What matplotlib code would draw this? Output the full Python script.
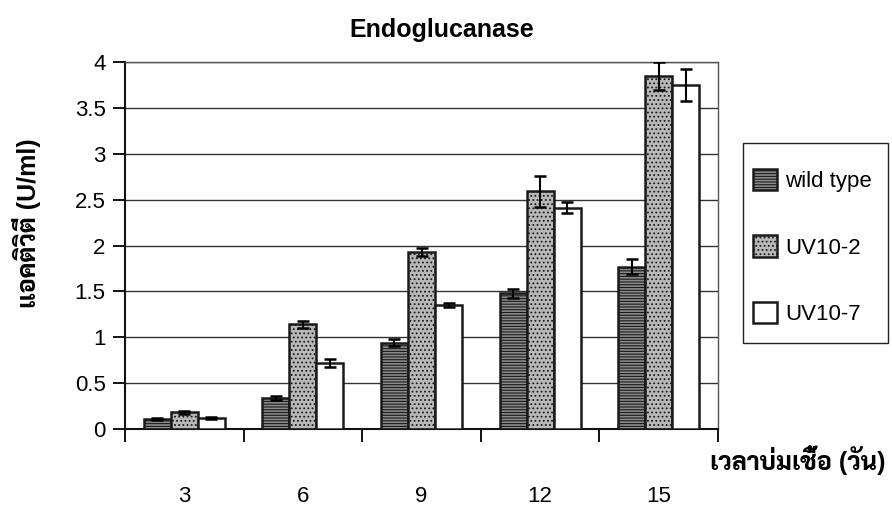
import matplotlib
matplotlib.use("Agg")
import matplotlib.pyplot as plt
from matplotlib.patches import Rectangle
import numpy as np

plt.rcParams['font.family'] = ['Liberation Sans', 'Sarabun', 'DejaVu Sans']
plt.rcParams['hatch.linewidth'] = 0.8

days = ["3", "6", "9", "12", "15"]
series_names = ["wild type", "UV10-2", "UV10-7"]
wild_type = [0.11, 0.34, 0.94, 1.48, 1.77]
wild_type_err = [0.01, 0.02, 0.04, 0.05, 0.08]
uv10_2 = [0.18, 1.14, 1.93, 2.59, 3.85]
uv10_2_err = [0.02, 0.04, 0.04, 0.17, 0.15]
uv10_7 = [0.12, 0.72, 1.35, 2.41, 3.75]
uv10_7_err = [0.01, 0.04, 0.02, 0.06, 0.17]

W, H = 892, 509
fig = plt.figure(figsize=(W/100, H/100), dpi=100)
ax = fig.add_axes([125/W, 1-429/H, (718-125)/W, (429-62)/H])

x = np.arange(len(days))
w = 0.228
styles = [
    dict(facecolor="#8a8a8a", hatch="------", edgecolor="#1a1a1a"),
    dict(facecolor="#b8b8b8", hatch="....", edgecolor="#1a1a1a"),
    dict(facecolor="white", hatch=None, edgecolor="#1a1a1a"),
]
vals = [wild_type, uv10_2, uv10_7]
errs = [wild_type_err, uv10_2_err, uv10_7_err]

handles = []
for i, (v, e, st) in enumerate(zip(vals, errs, styles)):
    bars = ax.bar(x + (i-1)*w, v, width=w, linewidth=1.8, zorder=3,
                  label=series_names[i], **st)
    ax.errorbar(x + (i-1)*w, v, yerr=e, fmt="none", ecolor="black",
                elinewidth=1.5, capsize=4.5, capthick=1.8, zorder=4)
    handles.append(bars)

ax.set_xlim(-0.5, 4.5)
ax.set_ylim(0, 4)
ax.set_yticks(np.arange(0, 4.01, 0.5))
ax.set_yticklabels(["0", "0.5", "1", "1.5", "2", "2.5", "3", "3.5", "4"])
ax.yaxis.grid(True, color="#333333", linewidth=1.0, zorder=0)
ax.set_axisbelow(True)

ax.set_xticks(x)
ax.set_xticklabels(days)
ax.tick_params(axis="x", which="major", length=0, pad=41, labelsize=16)
ax.set_xticks(np.arange(-0.5, 4.6, 1.0), minor=True)
ax.tick_params(axis="x", which="minor", length=9, width=1.3, direction="out")
ax.tick_params(axis="y", length=9, width=1.3, direction="out", labelsize=16, pad=5)

for s in ["left", "bottom"]:
    ax.spines[s].set_linewidth(1.5)
    ax.spines[s].set_color("#111111")
for s in ["top", "right"]:
    ax.spines[s].set_linewidth(1.0)
    ax.spines[s].set_color("#555555")

fig.text(442/W, 1-30/H, "Endoglucanase", ha="center", va="center",
         fontsize=18, fontweight="bold")
fig.text(27/W, 1-223/H, "แอคติวิตี (U/ml)", rotation=90, ha="center",
         va="center", fontsize=18, fontweight="heavy")
fig.text(886/W, 1-460/H, "เวลาบ่มเชื้อ (วัน)", ha="right", va="center",
         fontsize=18, fontweight="heavy")

# legend entries without frame; box drawn separately
leg = fig.legend(handles=handles, labels=series_names, loc="center left",
                 bbox_to_anchor=(753/W, 1-247/H), frameon=False,
                 fontsize=16, labelspacing=1.95,
                 handlelength=1.1, handleheight=1.1, handletextpad=0.35,
                 borderpad=0.0, borderaxespad=0)
fig.patches.append(Rectangle((743/W, 1-343/H), (888-743)/W, (343-143)/H,
                             transform=fig.transFigure, fill=False,
                             edgecolor="#222222", linewidth=1.0))

fig.savefig("out.png", dpi=100)
